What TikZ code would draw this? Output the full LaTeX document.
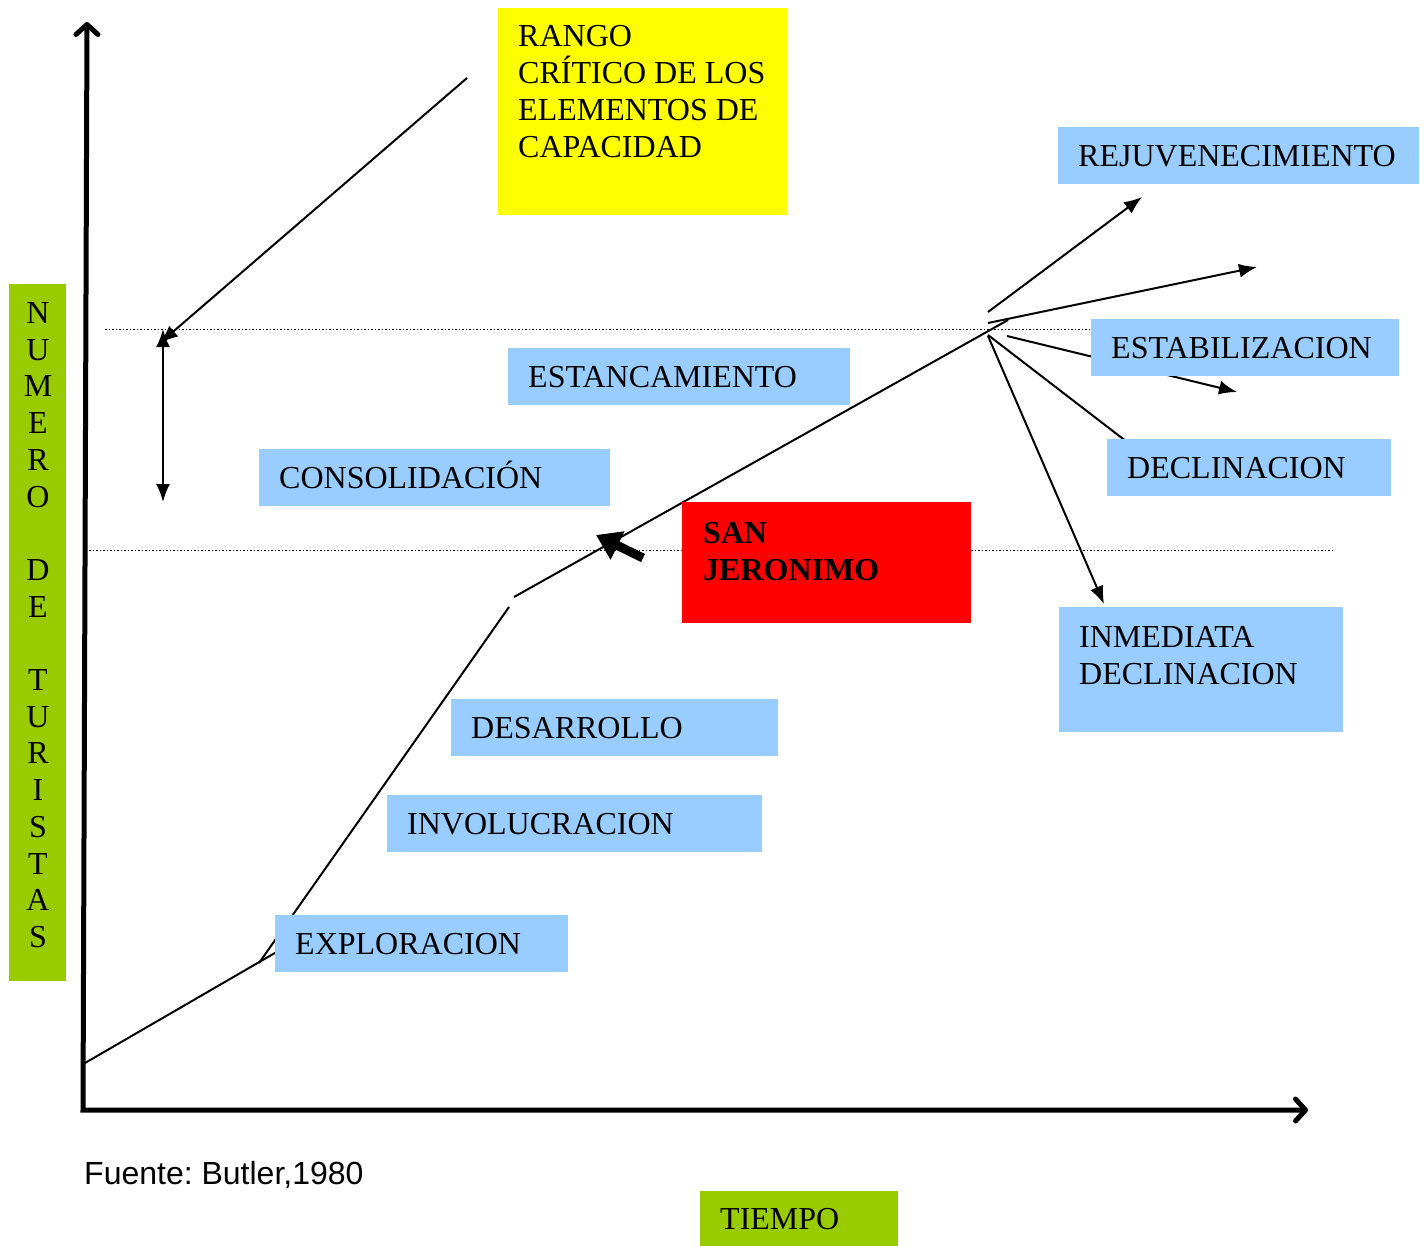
\documentclass[tikz,border=0pt]{standalone}
\usepackage{fontspec}
\setmainfont{Liberation Serif}
\newfontfamily\fuentesans{Liberation Sans}
\usetikzlibrary{arrows.meta}
\definecolor{Celeste}{RGB}{153,204,255}
\definecolor{Amarillo}{RGB}{255,255,0}
\definecolor{Rojo}{RGB}{255,0,0}
\definecolor{Verde}{RGB}{153,204,0}

\tikzset{
  texto/.style={font=\fontsize{32}{37}\selectfont, inner sep=0pt},
  etapa/.style={texto, fill=Celeste, anchor=west, align=left,
    inner xsep=20pt, minimum height=57pt, text height=21pt, text depth=0pt},
  caja/.style={anchor=north west, inner sep=0pt},
  trazo/.style={line width=2pt},
  flecha/.style={trazo, -{Latex[length=18pt,width=14pt]}},
  punteado/.style={line width=1pt, dash pattern=on 1.5pt off 2pt},
  eje/.style={line width=5pt,
    {Straight Barb[length=10pt,width=22pt,round]}-{Straight Barb[length=10pt,width=22pt,round]}},
}

\begin{document}
\begin{tikzpicture}[x=1pt,y=-1pt]
\useasboundingbox (0,0) rectangle (1426,1245);

% ejes
\coordinate (ytop) at (87,22);
\coordinate (origen) at (83,1110);
\coordinate (xfin) at (1308,1110);
\draw[eje] (ytop) -- (origen) -- (xfin);

% lineas de rango
\coordinate (p1a) at (105,329);
\coordinate (p1b) at (1095,329);
\coordinate (p2a) at (89,550);
\coordinate (p2b) at (1333,550);
\draw[punteado] (p1a) -- (p1b);
\draw[punteado] (p2a) -- (p2b);

% curva del ciclo
\coordinate (c0) at (85,1063);
\coordinate (c1) at (280,950);
\coordinate (c2) at (259,963);
\coordinate (c3) at (509,607);
\coordinate (c4) at (514,597);
\coordinate (c5) at (1008,320);
\draw[trazo] (c0) -- (c1);
\draw[trazo] (c2) -- (c3);
\draw[trazo] (c4) -- (c5);

% ramas finales
\coordinate (rj0) at (988,312);
\coordinate (rj1) at (1142,197);
\coordinate (es0) at (988,323);
\coordinate (es1) at (1257,267);
\coordinate (eb0) at (1007,336);
\coordinate (eb1) at (1237,392);
\coordinate (dc0) at (988,335);
\coordinate (dc1) at (1131,445);
\coordinate (im0) at (988,336);
\coordinate (im1) at (1104,604);
\draw[flecha] (rj0) -- (rj1);
\draw[flecha] (es0) -- (es1);
\draw[flecha] (eb0) -- (eb1);
\draw[trazo] (dc0) -- (dc1);
\draw[flecha] (im0) -- (im1);

% rango critico
\coordinate (cap0) at (467,78);
\coordinate (cap1) at (160,343);
\coordinate (rg0) at (163,329);
\coordinate (rg1) at (163,502);
\draw[flecha] (cap0) -- (cap1);
\draw[trazo, {Latex[length=18pt,width=14pt]}-{Latex[length=18pt,width=14pt]}] (rg0) -- (rg1);

% San Jeronimo
\coordinate (sj0) at (643,558);
\coordinate (sj1) at (596,535);
\draw[line width=9pt, -{Triangle[length=24pt,width=30pt]}] (sj0) -- (sj1);

% cajas
\node[caja, fill=Amarillo, minimum width=289pt, minimum height=207pt] (rango) at (498,8) {};
\node[texto, anchor=north west, align=left] (rangotxt) at (518,25)
    {RANGO\\CRÍTICO DE LOS\\ELEMENTOS DE\\CAPACIDAD};

\node[etapa, text width=321pt] (rejuv) at (1058,155.5) {REJUVENECIMIENTO};
\node[etapa, text width=268pt] (estab) at (1091,347.5) {ESTABILIZACION};
\node[etapa, text width=302pt] (estanc) at (508,376.5) {ESTANCAMIENTO};
\node[etapa, text width=311pt] (consol) at (259,477.5) {CONSOLIDACIÓN};
\node[etapa, text width=244pt] (declin) at (1107,467.5) {DECLINACION};
\node[etapa, text width=287pt] (desarr) at (451,727.5) {DESARROLLO};
\node[etapa, text width=335pt] (involuc) at (387,823.5) {INVOLUCRACION};
\node[etapa, text width=253pt] (explor) at (275,943.5) {EXPLORACION};

\node[caja, fill=Rojo, minimum width=289pt, minimum height=121pt] (sanjer) at (682,502) {};
\node[texto, anchor=north west, align=left, font=\fontsize{32}{37}\selectfont\bfseries]
    (sanjertxt) at (703,522) {SAN\\JERONIMO};

\node[caja, fill=Celeste, minimum width=284pt, minimum height=125pt] (inmed) at (1059,607) {};
\node[texto, anchor=north west, align=left] (inmedtxt) at (1079,626)
    {INMEDIATA\\DECLINACION};

% titulos de ejes
\node[caja, fill=Verde, minimum width=57pt, minimum height=697pt] (ejey) at (9,284) {};
\foreach \letra [count=\i from 0] in {N,U,M,E,R,O,{},D,E,{},T,U,R,I,S,T,A,S}
    \node[texto, text height=21pt, text depth=0pt] (letra\i) at (38,{313+36.7*\i}) {\letra};

\node[etapa, fill=Verde, text width=158pt] (tiempo) at (700,1219) {TIEMPO};

\node[anchor=base west, inner sep=0pt, font=\fuentesans\fontsize{32}{37}\selectfont]
    (fuente) at (84,1184) {\frenchspacing Fuente: Butler,1980};
\end{tikzpicture}
\end{document}
